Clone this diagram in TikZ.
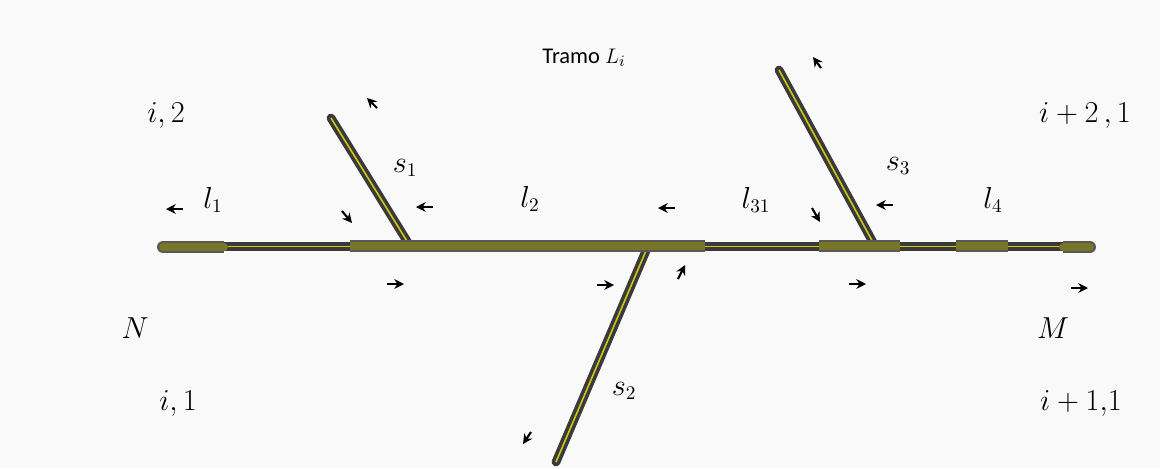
\documentclass[tikz,border=0pt]{standalone}
\usepackage{fontspec}
\setmainfont{Carlito}
\usepackage{tikz}
\usetikzlibrary{arrows.meta}

\definecolor{bgpage}{RGB}{249,249,249}
\definecolor{cabledark}{RGB}{58,58,58}
\definecolor{cablegray}{RGB}{88,88,84}
\definecolor{cableolive}{RGB}{120,116,40}
\definecolor{cableyellow}{RGB}{205,200,20}

\begin{document}
\begin{tikzpicture}[
  x=0.02cm, y=-0.02cm,
  cable/.style={draw=cabledark, line width=5pt},
  cablecore/.style={draw=cableyellow, line width=0.9pt},
  splice/.style={draw=cablegray, line width=6.8pt},
  splicecore/.style={draw=cableolive, line width=4.4pt},
  flow/.style={-{Stealth[length=5.5pt,width=5.5pt]}, line width=1.2pt},
  lbl/.style={font=\fontsize{16}{18}\selectfont, inner sep=0pt},
]
  \fill[bgpage] (0,0) rectangle (1160,468);
  \useasboundingbox (0,0) rectangle (1160,468);

  % junctions on the main line
  \coordinate (N0) at (163,247);
  \coordinate (J1) at (410,246);
  \coordinate (J2) at (648,246);
  \coordinate (J3) at (875,246);
  \coordinate (M0) at (1090,247);
  % free ends of the branches
  \coordinate (S1) at (331,118);
  \coordinate (S2) at (556,462);
  \coordinate (S3) at (779,70);

  % branches
  \foreach \a/\b in {S1/J1, S2/J2, S3/J3} {
    \draw[cable, line cap=round] (\a) -- (\b);
    \draw[cablecore] (\a) -- (\b);
  }

  % main line, plain stretches
  \foreach \u/\v in {224/350, 705/819, 900/956, 1008/1063} {
    \draw[cable] (\u,246.5) -- (\v,246.5);
    \draw[cablecore] (\u,246.5) -- (\v,246.5);
  }
  % main line, splices
  \foreach \u/\v in {350/705, 819/900, 956/1008} {
    \draw[splice] (\u,246) -- (\v,246);
    \draw[splicecore] (\u,246) -- (\v,246);
  }
  \draw[splice, line cap=round] (N0) -- (190,247);
  \draw[splice] (190,247) -- (224,247);
  \draw[splicecore, line cap=round] (N0) -- (224,247);
  \draw[splice, line cap=round] (M0) -- (1070,247);
  \draw[splice] (1070,247) -- (1063,247);
  \draw[splicecore, line cap=round] (M0) -- (1063,247);

  % flow arrows
  \foreach \x/\y/\dx/\dy in {183/209/-17/0, 342/211/10/12, 433/207/-17/0,
      377/108/-10/-10, 387/284/17/0, 675/208/-17/0, 597/285/17/0,
      678/279/7/-14, 531/432/-8/12, 812/208/8/14, 893/205/-17/0,
      821/68/-8/-11, 849/284/17/0, 1071/288/17/0}
    \draw[flow] (\x,\y) -- ++(\dx,\dy);

  % labels
  \node[font=\fontsize{12.8}{15}\selectfont, inner sep=0pt] (tramo) at (584,58) {Tramo $L_i$};
  \node[lbl] (n12) at (166,115) {$i,2$};
  \node[lbl] (n11) at (178,403) {$i,1$};
  \node[lbl] (n21) at (1085,115) {$i+2\,,1$};
  \node[lbl] (n31) at (1081,403) {$i+1{,}1$};
  \node[lbl] (nN) at (135,328) {$N$};
  \node[lbl] (nM) at (1053,328) {$M$};
  \node[lbl] (ls1) at (405,168) {$s_1$};
  \node[lbl] (ls2) at (624,391) {$s_2$};
  \node[lbl] (ls3) at (898,166) {$s_3$};
  \node[lbl] (ll1) at (213,200) {$l_1$};
  \node[lbl] (ll2) at (530,199) {$l_2$};
  \node[lbl] (ll31) at (756,200) {$l_{31}$};
  \node[lbl] (ll4) at (993,200) {$l_4$};
\end{tikzpicture}
\end{document}
